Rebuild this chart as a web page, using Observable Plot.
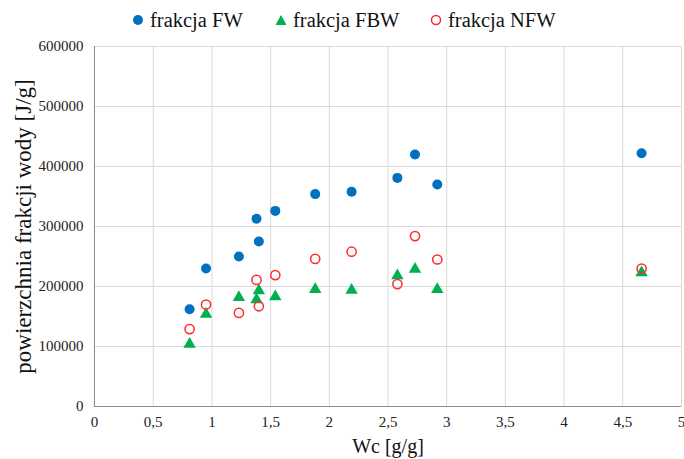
<!DOCTYPE html>
<html><head><meta charset="utf-8">
<script src="https://cdn.jsdelivr.net/npm/d3@7"></script>
<script src="https://cdn.jsdelivr.net/npm/@observablehq/plot@0.6"></script>
<style>
body{margin:0;background:#fff;font-family:"Liberation Serif","Times New Roman",serif;}
#legend{height:36px;position:relative;font-size:20.5px;color:#111;}
#legend .it{position:absolute;top:8px;display:flex;align-items:center;line-height:24px;}
#legend svg{margin-right:6px;}
</style></head>
<body>
<div id="legend"></div>
<div id="chart"></div>
<script>
const wc  = [0.81, 0.95, 1.23, 1.38, 1.40, 1.54, 1.88, 2.19, 2.58, 2.73, 2.92, 4.66];
const fw  = [162000, 230000, 250000, 313000, 275000, 326000, 354000, 358000, 381000, 420000, 370000, 422000];
const fbw = [104000, 154000, 182000, 178000, 193000, 183000, 195000, 194000, 218000, 229000, 195000, 223000];
const nfw = [129000, 170000, 156000, 211000, 167000, 219000, 246000, 258000, 204000, 284000, 245000, 230000];
const seriesNames = ["frakcja FW", "frakcja FBW", "frakcja NFW"];
const xTicks = [0, 0.5, 1, 1.5, 2, 2.5, 3, 3.5, 4, 4.5, 5];
const yTicks = [0, 100000, 200000, 300000, 400000, 500000, 600000];

const BLUE = "#0070c0", GREEN = "#00b050", RED = "#ff2a2a";
const SERIF = '"Liberation Serif","Times New Roman",serif';

const rows = (vals) => wc.map((x, i) => ({x, y: vals[i]}));

// legend
const legend = document.getElementById("legend");
const legendDefs = [
  {name: seriesNames[0], left: 132, svg: `<svg width="12" height="12"><circle cx="6" cy="6" r="5" fill="${BLUE}"/></svg>`},
  {name: seriesNames[1], left: 275, svg: `<svg width="12" height="12"><path d="M6,1L11.5,11H0.5Z" fill="${GREEN}"/></svg>`},
  {name: seriesNames[2], left: 430, svg: `<svg width="12" height="12"><circle cx="6" cy="6" r="4.5" fill="none" stroke="${RED}" stroke-width="1.5"/></svg>`}
];
for (const d of legendDefs) {
  const el = document.createElement("div");
  el.className = "it";
  el.style.left = d.left + "px";
  el.innerHTML = d.svg + `<span>${d.name}</span>`;
  legend.appendChild(el);
}

const chart = Plot.plot({
  width: 684,
  height: 423,
  marginTop: 10,
  marginLeft: 94,
  marginRight: 3,
  marginBottom: 53,
  style: {fontFamily: SERIF, fontSize: "15px", color: "#333", background: "#fff"},
  x: {domain: [0, 5], ticks: xTicks, tickFormat: d => String(d).replace(".", ","), tickSize: 0, tickPadding: 10,
      label: "Wc [g/g]", labelAnchor: "center", labelArrow: "none", labelOffset: 46},
  y: {domain: [0, 600000], ticks: yTicks, tickFormat: d => String(d), tickSize: 0, tickPadding: 11,
      label: "powierzchnia frakcji wody [J/g]", labelAnchor: "center", labelArrow: "none", labelOffset: 80},
  marks: [
    Plot.gridX(xTicks, {stroke: "#d9d9d9", strokeOpacity: 1}),
    Plot.gridY(yTicks, {stroke: "#d9d9d9", strokeOpacity: 1}),
    Plot.ruleX([0], {stroke: "#8c8c8c"}),
    Plot.ruleY([0], {stroke: "#8c8c8c"}),
    Plot.dot(rows(fw), {x: "x", y: "y", r: 5, fill: BLUE, symbol: "circle"}),
    Plot.dot(rows(fbw), {x: "x", y: "y", r: 4.6, fill: GREEN, symbol: "triangle"}),
    Plot.dot(rows(nfw), {x: "x", y: "y", r: 4.6, stroke: RED, strokeWidth: 1.5, fill: "none", symbol: "circle"})
  ]
});
document.getElementById("chart").appendChild(chart);
chart.querySelectorAll("text").forEach(t => {
  t.style.fontFamily = SERIF;
  t.style.fontSize = "15px";
  t.style.fill = "#222";
});
chart.querySelectorAll('g[aria-label="x-axis label"] text').forEach(t => {
  t.style.fontSize = "20px"; t.style.fill = "#111";
});
chart.querySelectorAll('g[aria-label="y-axis label"] text').forEach(t => {
  t.style.fontSize = "23px"; t.style.fill = "#111";
});
</script>
</body></html>
